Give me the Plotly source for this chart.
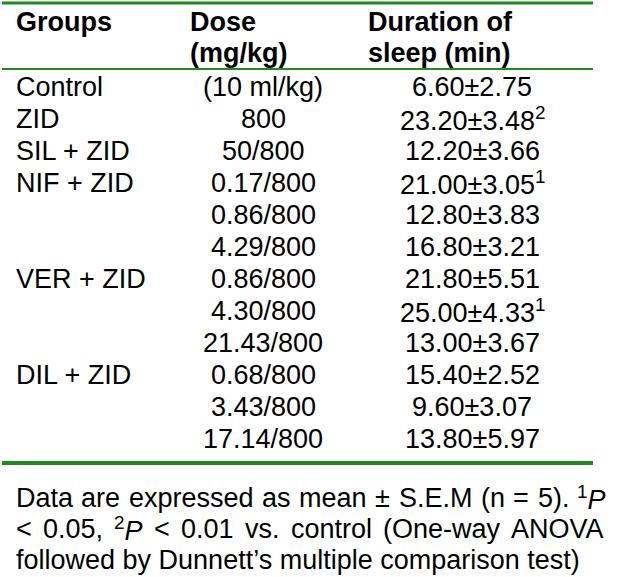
import plotly.graph_objects as go

# ---- data ----
header_groups = ["Groups"]
header_dose = ["Dose", "(mg/kg)"]
header_duration = ["Duration of", "sleep (min)"]

groups = ["Control", "ZID", "SIL + ZID", "NIF + ZID", "", "", "VER + ZID", "", "", "DIL + ZID", "", ""]
doses = ["(10 ml/kg)", "800", "50/800", "0.17/800", "0.86/800", "4.29/800",
         "0.86/800", "4.30/800", "21.43/800", "0.68/800", "3.43/800", "17.14/800"]
means = ["6.60", "23.20", "12.20", "21.00", "12.80", "16.80",
         "21.80", "25.00", "13.00", "15.40", "9.60", "13.80"]
sems = ["2.75", "3.48", "3.66", "3.05", "3.83", "3.21",
        "5.51", "4.33", "3.67", "2.52", "3.07", "5.97"]
sig = ["", "2", "", "1", "", "", "", "1", "", "", "", ""]

# footnote words: (plain text for width, rich text for display)
foot_line1 = ["Data", "are", "expressed", "as", "mean", "±", "S.E.M", "(n", "=", "5).", ("1", "P")]
foot_line2 = ["<", "0.05,", ("2", "P"), "<", "0.01", "vs.", "control", "(One-way", "ANOVA"]
foot_line3 = "followed by Dunnett’s multiple comparison test)"

# ---- layout constants ----
W, H = 618, 577
FONT = "Liberation Sans, Arial, sans-serif"
FS = 27
GREEN = "#1f8a1f"
x_groups, x_dose_hdr, x_dose_c, x_dur_hdr, x_dur_c = 15, 189, 263, 367, 472
y_hdr = [22, 53]
y_row0, dy = 87, 32
y_foot = [498, 529, 560]
x_justify_end = 605

# Arial / Liberation Sans advance widths (per 1000 em) for layout of justified lines
AW = {" ": 278, "D": 722, "a": 556, "t": 278, "r": 333, "e": 556, "x": 500, "p": 556,
      "s": 500, "d": 556, "m": 833, "n": 556, "±": 584, "S": 667, ".": 278, "E": 667,
      "M": 833, "(": 333, ")": 333, "=": 584, "5": 556, "1": 556, "2": 556, "0": 556,
      "P": 667, "<": 584, ",": 278, "v": 500, "c": 500, "o": 556, "l": 222, "O": 778,
      "-": 333, "w": 722, "y": 500, "A": 667, "N": 722, "V": 667}

def word_width(w):
    if isinstance(w, tuple):
        return (0.7 * sum(AW[c] for c in w[0]) + sum(AW[c] for c in w[1])) * FS / 1000
    return sum(AW.get(c, 556) for c in w) * FS / 1000

def word_text(w):
    if isinstance(w, tuple):
        return f"<sup>{w[0]}</sup><i>{w[1]}</i>"
    return w

fig = go.Figure()
fig.add_trace(go.Scatter(x=[0, W], y=[0, H], mode="markers", marker=dict(opacity=0),
                         hoverinfo="skip", showlegend=False))

ann = []
def add(text, x, y, anchor="left", bold=False):
    if bold:
        text = "<b>" + text + "</b>"
    ann.append(dict(text=text, x=x, y=y, xref="x", yref="y", xanchor=anchor,
                    yanchor="middle", showarrow=False, borderpad=0,
                    font=dict(family=FONT, size=FS, color="black")))

add(header_groups[0], x_groups, y_hdr[0], bold=True)
for i, t in enumerate(header_dose):
    add(t, x_dose_hdr, y_hdr[i], bold=True)
for i, t in enumerate(header_duration):
    add(t, x_dur_hdr, y_hdr[i], bold=True)

for i in range(len(doses)):
    y = y_row0 + i * dy
    if groups[i]:
        add(groups[i], x_groups, y)
    add(doses[i], x_dose_c, y, anchor="center")
    txt = f"{means[i]}±{sems[i]}" + (f"<sup>{sig[i]}</sup>" if sig[i] else "")
    add(txt, x_dur_c, y, anchor="center")

# justified footnote lines
for words, y in ((foot_line1, y_foot[0]), (foot_line2, y_foot[1])):
    widths = [word_width(w) for w in words]
    gap = (x_justify_end - x_groups - sum(widths)) / (len(words) - 1)
    x = x_groups
    for w, wd in zip(words, widths):
        add(word_text(w), x, y)
        x += wd + gap
add(foot_line3, x_groups, y_foot[2])

shapes = [
    dict(type="line", x0=2, x1=593, y0=3, y1=3, xref="x", yref="y", line=dict(color=GREEN, width=3)),
    dict(type="line", x0=2, x1=593, y0=69, y1=69, xref="x", yref="y", line=dict(color=GREEN, width=2)),
    dict(type="line", x0=2, x1=593, y0=463, y1=463, xref="x", yref="y", line=dict(color=GREEN, width=4)),
]

fig.update_layout(
    width=W, height=H, margin=dict(l=0, r=0, t=0, b=0),
    paper_bgcolor="white", plot_bgcolor="white",
    xaxis=dict(range=[0, W], visible=False, fixedrange=True),
    yaxis=dict(range=[H, 0], visible=False, fixedrange=True),
    annotations=ann, shapes=shapes, showlegend=False,
)
fig.write_html("out.html", config={"displayModeBar": False},
               post_script="document.body.style.margin='0';")
